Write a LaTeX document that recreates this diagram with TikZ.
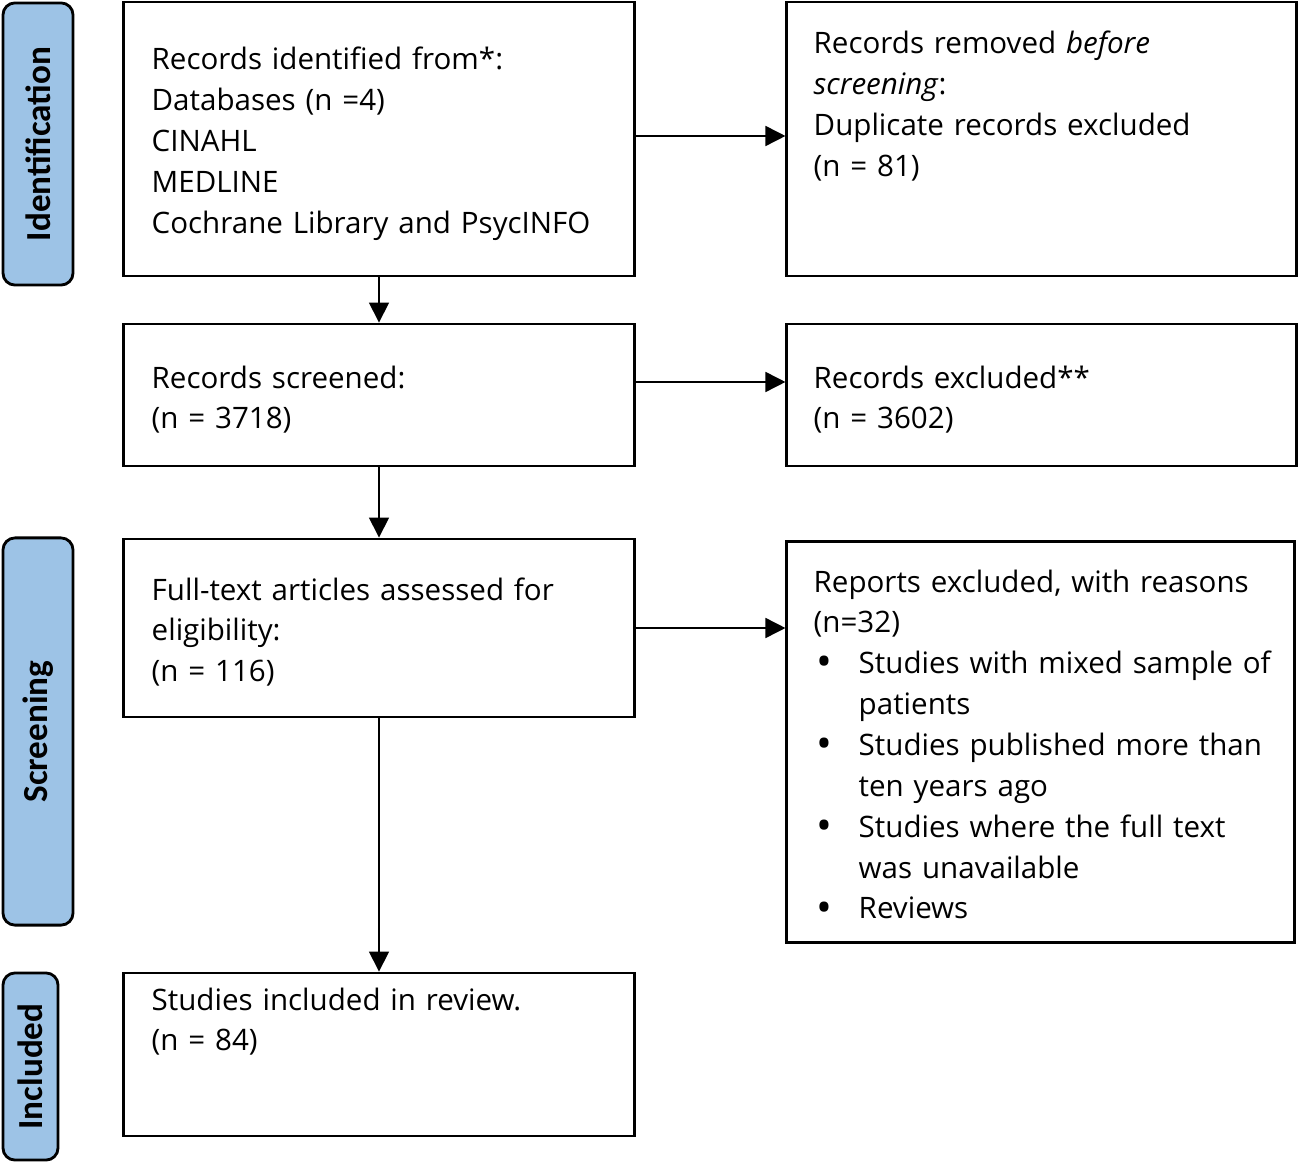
\documentclass[tikz,border=0pt]{standalone}
\usepackage{fontspec}
\setmainfont{Open Sans}
\newfontfamily\stagefont{Carlito}
\usetikzlibrary{arrows.meta}
\definecolor{stageblue}{HTML}{9DC3E6}
\newcommand{\bulletitem}{\hspace*{0.03cm}\makebox[0.42cm][l]{\raisebox{-0.2ex}{\large •}}}

\begin{document}
\begin{tikzpicture}[x=0.01cm, y=-0.01cm,
    box/.style={draw, line width=0.8pt, inner sep=0pt},
    txt/.style={anchor=base west, align=left, inner sep=0pt, text width=4.9cm,
      font=\fontsize{8.4}{11.62}\selectfont},
    stage/.style={draw, line width=0.8pt, fill=stageblue, rounded corners=0.12cm, inner sep=0pt},
    stagetxt/.style={rotate=90, font=\stagefont\bfseries\fontsize{10}{11}\selectfont},
    arr/.style={line width=0.45pt, -{Triangle[length=0.2cm, width=0.2cm]}}]
        \useasboundingbox (0, 0) rectangle (1298, 1164);

        % Stage labels
        \node [stage, minimum width=0.70cm, minimum height=2.82cm] (sident) at (38, 144) {};
        \node [stagetxt] at (sident) {Identification};
        \node [stage, minimum width=0.70cm, minimum height=3.87cm] (sscreen) at (38, 731.5) {};
        \node [stagetxt] at (sscreen) {Screening};
        \node [stage, minimum width=0.55cm, minimum height=1.87cm] (sincl) at (30.5, 1066.5) {};
        \node [stagetxt] at (sincl) {Included};

        % Boxes
        \node [box, minimum width=5.10cm, minimum height=2.74cm] (ident) at (379, 139) {};
        \node [box, minimum width=5.09cm, minimum height=2.74cm] (removed) at (1041.5, 139) {};
        \node [box, minimum width=5.10cm, minimum height=1.42cm] (screened) at (379, 395) {};
        \node [box, minimum width=5.09cm, minimum height=1.42cm] (excl) at (1041.5, 395) {};
        \node [box, minimum width=5.10cm, minimum height=1.78cm] (fulltext) at (379, 628) {};
        \node [box, minimum width=5.07cm, minimum height=4.00cm] (reports) at (1040.5, 742) {};
        \node [box, minimum width=5.10cm, minimum height=1.63cm] (incl) at (379, 1054.5) {};

        % Texts
        \node [txt] (tident) at (151, 70) {Records identified from*:\\Databases (n =4)\\CINAHL\\MEDLINE\\Cochrane Library and PsycINFO};
        \node [txt] (tremoved) at (813, 54) {Records removed \textit{before}\\\textit{screening}:\\Duplicate records excluded\\(n = 81)};
        \node [txt] (tscreened) at (151, 388) {Records screened:\\(n = 3718)};
        \node [txt] (texcl) at (813, 388) {Records excluded**\\(n = 3602)};
        \node [txt] (tfulltext) at (151, 600) {Full-text articles assessed for\\eligibility:\\(n = 116)};
        \node [txt] (treports) at (813, 592) {Reports excluded, with reasons\\(n=32)\\
          \bulletitem Studies with mixed sample of\\\hspace*{0.45cm}patients\\
          \bulletitem Studies published more than\\\hspace*{0.45cm}ten years ago\\
          \bulletitem Studies where the full text\\\hspace*{0.45cm}was unavailable\\
          \bulletitem Reviews};
        \node [txt] (tincl) at (151, 1010) {Studies included in review.\\(n = 84)};

        % Arrows
        \draw [arr] (ident.south) -- (screened.north);
        \draw [arr] (screened.south) -- (fulltext.north);
        \draw [arr] (fulltext.south) -- (incl.north);
        \draw [arr] ([yshift=0.03cm]ident.east) -- ([yshift=0.03cm]ident.east -| removed.west);
        \draw [arr] ([yshift=0.13cm]screened.east) -- ([yshift=0.13cm]screened.east -| excl.west);
        \draw [arr] (fulltext.east) -- (fulltext.east -| reports.west);
      \end{tikzpicture}
\end{document}
